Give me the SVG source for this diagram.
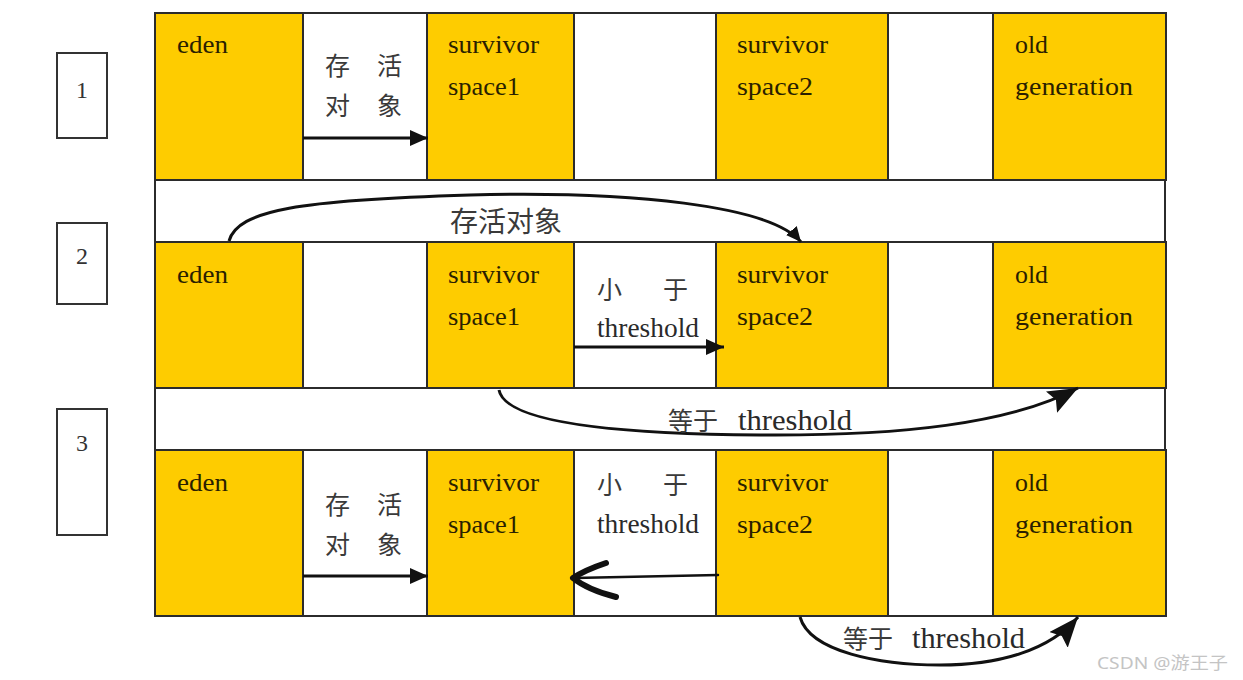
<svg xmlns="http://www.w3.org/2000/svg" width="1243" height="680" viewBox="0 0 1243 680">
<defs>
<style>
.cell{stroke:#2b2b2b;stroke-width:2}
.y{fill:#FECC00}
.w{fill:#ffffff}
.lbl{font-family:"Liberation Serif","Times New Roman",serif;font-size:26px;fill:#2a1f00}
.cjk{font-family:"Liberation Serif","Noto Sans CJK SC",sans-serif;font-size:25px;fill:#3a3a3a}
.th{font-family:"Liberation Serif","Times New Roman",serif;font-size:27px;fill:#2a2a2a}
.num{font-family:"Liberation Serif","Times New Roman",serif;font-size:24px;fill:#333;text-anchor:middle}
.box{fill:#fff;stroke:#333;stroke-width:2}
.conn{fill:none;stroke:#111;stroke-width:3}
.frame{stroke:#2b2b2b;stroke-width:2}
</style>
<marker id="ah" markerUnits="userSpaceOnUse" markerWidth="22" markerHeight="20" refX="18" refY="8" orient="auto">
<path d="M0,0 L18,8 L0,16 Z" fill="#111"/>
</marker>
<marker id="ahs" markerUnits="userSpaceOnUse" markerWidth="18" markerHeight="16" refX="15" refY="7" orient="auto">
<path d="M0,0 L15,7 L0,14 Z" fill="#111"/>
</marker>
<marker id="ahb" markerUnits="userSpaceOnUse" markerWidth="34" markerHeight="28" refX="30" refY="12" orient="auto">
<path d="M0,0 L30,12 L0,24 L5,12 Z" fill="#111"/>
</marker>
</defs>
<rect width="1243" height="680" fill="#ffffff"/>

<g id="labels">
<g id="step1"><rect class="box" x="57" y="53" width="50" height="85"/><text class="num" x="82" y="98">1</text></g>
<g id="step2"><rect class="box" x="57" y="223" width="50" height="81"/><text class="num" x="82" y="264">2</text></g>
<g id="step3"><rect class="box" x="57" y="409" width="50" height="126"/><text class="num" x="82" y="451">3</text></g>
</g>

<g id="frame">
<line class="frame" x1="155" y1="180" x2="155" y2="242"/>
<line class="frame" x1="155" y1="388" x2="155" y2="450"/>
<line class="frame" x1="1165" y1="180" x2="1165" y2="242"/>
<line class="frame" x1="1165" y1="388" x2="1165" y2="450"/>
</g>

<g id="row1">
<g id="r1-eden"><rect class="cell y" x="155" y="13" width="148" height="167"/><text class="lbl" x="177" y="53" textLength="51" lengthAdjust="spacingAndGlyphs">eden</text></g>
<g id="r1-gap1"><rect class="cell w" x="303" y="13" width="124" height="167"/><text class="cjk" x="325" y="75" textLength="77" lengthAdjust="spacing">存 活</text><text class="cjk" x="325" y="115" textLength="77" lengthAdjust="spacing">对 象</text></g>
<g id="r1-s1"><rect class="cell y" x="427" y="13" width="147" height="167"/><text class="lbl" x="448" y="53" textLength="91" lengthAdjust="spacingAndGlyphs">survivor</text><text class="lbl" x="448" y="95" textLength="72" lengthAdjust="spacingAndGlyphs">space1</text></g>
<g id="r1-gap2"><rect class="cell w" x="574" y="13" width="142" height="167"/></g>
<g id="r1-s2"><rect class="cell y" x="716" y="13" width="172" height="167"/><text class="lbl" x="737" y="53" textLength="91" lengthAdjust="spacingAndGlyphs">survivor</text><text class="lbl" x="737" y="95" textLength="76" lengthAdjust="spacingAndGlyphs">space2</text></g>
<g id="r1-gap3"><rect class="cell w" x="888" y="13" width="105" height="167"/></g>
<g id="r1-old"><rect class="cell y" x="993" y="13" width="173" height="167"/><text class="lbl" x="1015" y="53" textLength="33" lengthAdjust="spacingAndGlyphs">old</text><text class="lbl" x="1015" y="95" textLength="118" lengthAdjust="spacingAndGlyphs">generation</text></g>
</g>

<g id="row2">
<g id="r2-eden"><rect class="cell y" x="155" y="242" width="148" height="146"/><text class="lbl" x="177" y="283" textLength="51" lengthAdjust="spacingAndGlyphs">eden</text></g>
<g id="r2-gap1"><rect class="cell w" x="303" y="242" width="124" height="146"/></g>
<g id="r2-s1"><rect class="cell y" x="427" y="242" width="147" height="146"/><text class="lbl" x="448" y="283" textLength="91" lengthAdjust="spacingAndGlyphs">survivor</text><text class="lbl" x="448" y="325" textLength="72" lengthAdjust="spacingAndGlyphs">space1</text></g>
<g id="r2-gap2"><rect class="cell w" x="574" y="242" width="142" height="146"/><text class="cjk" x="597" y="299" textLength="91" lengthAdjust="spacing">小 于</text><text class="th" x="597" y="337" textLength="102" lengthAdjust="spacingAndGlyphs">threshold</text></g>
<g id="r2-s2"><rect class="cell y" x="716" y="242" width="172" height="146"/><text class="lbl" x="737" y="283" textLength="91" lengthAdjust="spacingAndGlyphs">survivor</text><text class="lbl" x="737" y="325" textLength="76" lengthAdjust="spacingAndGlyphs">space2</text></g>
<g id="r2-gap3"><rect class="cell w" x="888" y="242" width="105" height="146"/></g>
<g id="r2-old"><rect class="cell y" x="993" y="242" width="173" height="146"/><text class="lbl" x="1015" y="283" textLength="33" lengthAdjust="spacingAndGlyphs">old</text><text class="lbl" x="1015" y="325" textLength="118" lengthAdjust="spacingAndGlyphs">generation</text></g>
</g>

<g id="row3">
<g id="r3-eden"><rect class="cell y" x="155" y="450" width="148" height="166"/><text class="lbl" x="177" y="491" textLength="51" lengthAdjust="spacingAndGlyphs">eden</text></g>
<g id="r3-gap1"><rect class="cell w" x="303" y="450" width="124" height="166"/><text class="cjk" x="325" y="514" textLength="77" lengthAdjust="spacing">存 活</text><text class="cjk" x="325" y="554" textLength="77" lengthAdjust="spacing">对 象</text></g>
<g id="r3-s1"><rect class="cell y" x="427" y="450" width="147" height="166"/><text class="lbl" x="448" y="491" textLength="91" lengthAdjust="spacingAndGlyphs">survivor</text><text class="lbl" x="448" y="533" textLength="72" lengthAdjust="spacingAndGlyphs">space1</text></g>
<g id="r3-gap2"><rect class="cell w" x="574" y="450" width="142" height="166"/><text class="cjk" x="597" y="494" textLength="91" lengthAdjust="spacing">小 于</text><text class="th" x="597" y="533" textLength="102" lengthAdjust="spacingAndGlyphs">threshold</text></g>
<g id="r3-s2"><rect class="cell y" x="716" y="450" width="172" height="166"/><text class="lbl" x="737" y="491" textLength="91" lengthAdjust="spacingAndGlyphs">survivor</text><text class="lbl" x="737" y="533" textLength="76" lengthAdjust="spacingAndGlyphs">space2</text></g>
<g id="r3-gap3"><rect class="cell w" x="888" y="450" width="105" height="166"/></g>
<g id="r3-old"><rect class="cell y" x="993" y="450" width="173" height="166"/><text class="lbl" x="1015" y="491" textLength="33" lengthAdjust="spacingAndGlyphs">old</text><text class="lbl" x="1015" y="533" textLength="118" lengthAdjust="spacingAndGlyphs">generation</text></g>
</g>

<g id="connectors">
<path class="conn" d="M303,138 L428,138" marker-end="url(#ah)"/>
<path class="conn" d="M229,241 C238,210 300,200 470,195 C630,191 770,205 801,242" marker-end="url(#ahs)"/>
<text class="cjk" x="450" y="232" style="font-size:28px" textLength="112" lengthAdjust="spacingAndGlyphs">存活对象</text>
<path class="conn" d="M574,347 L724,347" marker-end="url(#ah)"/>
<path class="conn" d="M499,390 C505,422 610,434 760,435 C900,436 1010,424 1078,388" marker-end="url(#ahb)"/>
<text x="668" y="430"><tspan class="cjk">等于</tspan><tspan class="th" x="738" textLength="114" lengthAdjust="spacingAndGlyphs" style="font-size:29px">threshold</tspan></text>
<path class="conn" d="M303,576 L428,576" marker-end="url(#ah)"/>
<path d="M718,575 L574,578" fill="none" stroke="#111" stroke-width="2.5" stroke-linecap="round"/>
<path d="M606,563 Q585,570 573,578 Q588,590 616,597" fill="none" stroke="#111" stroke-width="6" stroke-linecap="round" stroke-linejoin="round"/>
<path class="conn" d="M800,617 C810,652 880,665 940,665 C1000,665 1050,650 1078,617" marker-end="url(#ahb)"/>
<text x="843" y="648"><tspan class="cjk">等于</tspan><tspan class="th" x="912" textLength="113" lengthAdjust="spacingAndGlyphs" style="font-size:29px">threshold</tspan></text>
</g>

<text x="1097" y="669" style="font-family:'Noto Sans','Noto Sans CJK SC',sans-serif;font-size:17px;fill:#c4c4c4" textLength="131" lengthAdjust="spacingAndGlyphs">CSDN @游王子</text>
</svg>
